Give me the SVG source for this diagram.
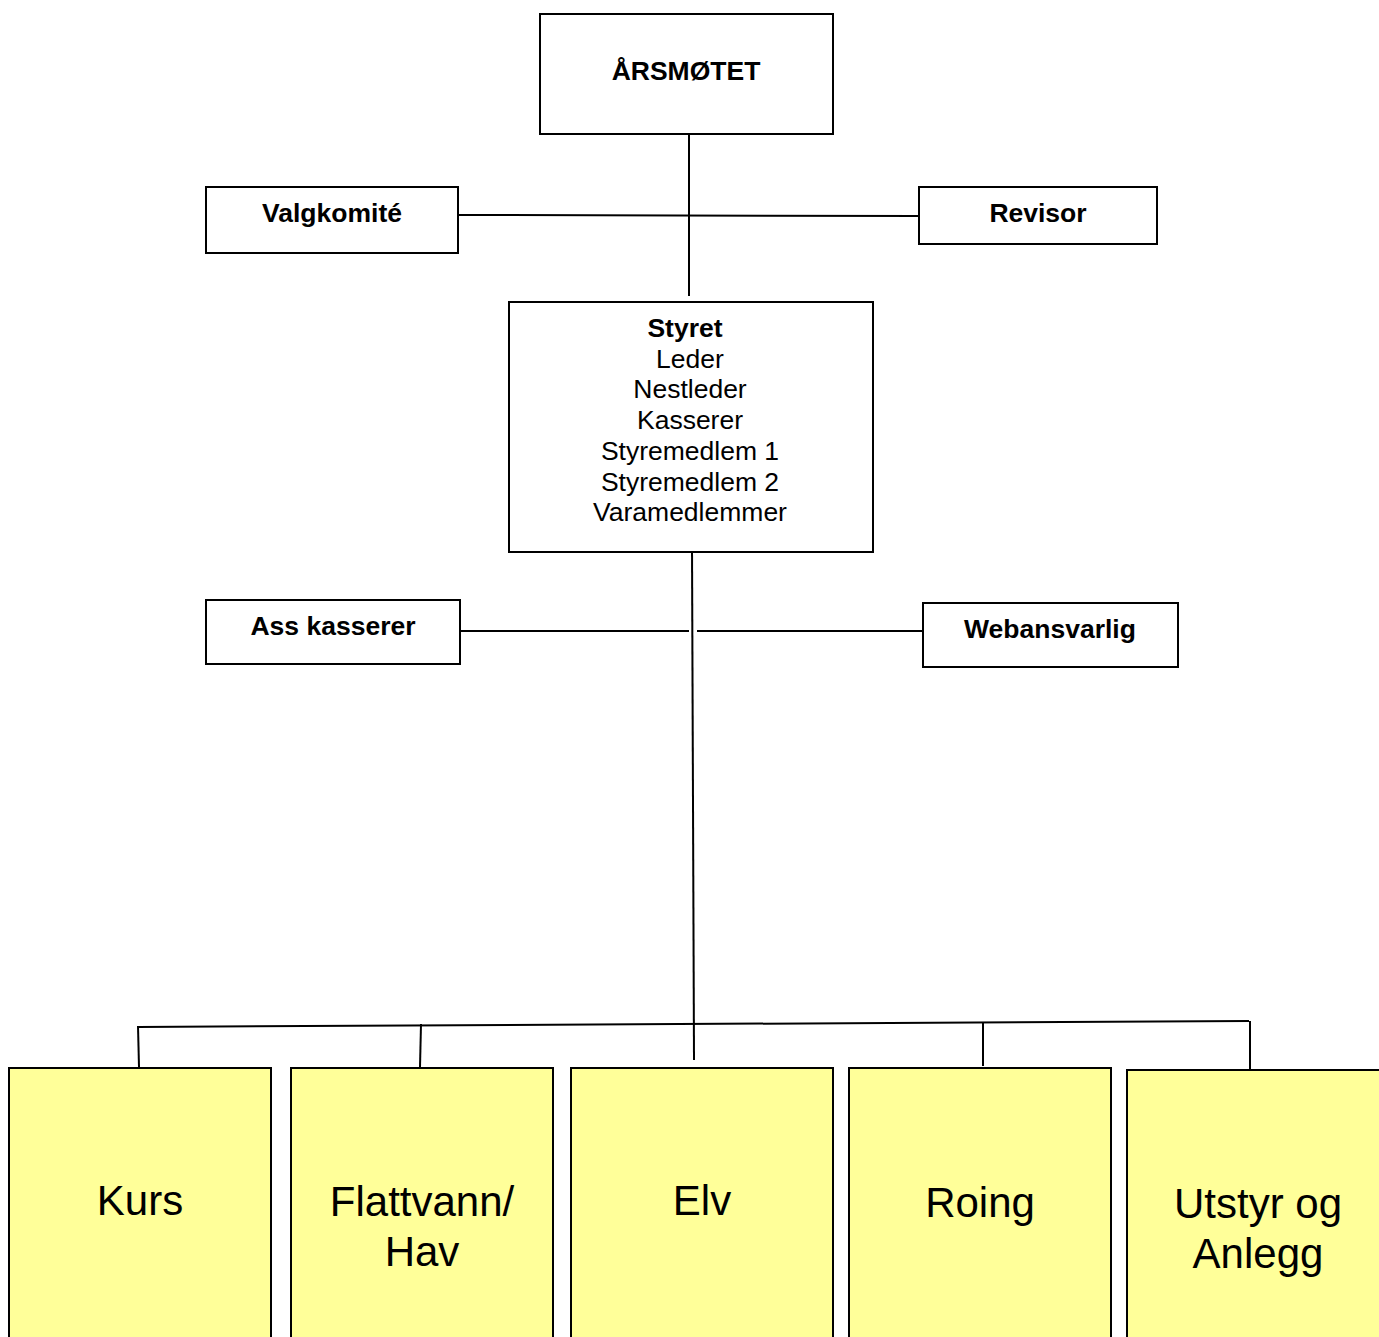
<svg xmlns="http://www.w3.org/2000/svg" width="1379" height="1337" viewBox="0 0 1379 1337">
<style>
.box{fill:#ffffff;stroke:#000;stroke-width:2}
.unit{fill:#ffff99;stroke:#000;stroke-width:2}
.ln{stroke:#000;stroke-width:2;fill:none}
.b{font-family:"Liberation Sans",Arial,sans-serif;font-weight:bold;font-size:26.5px;text-anchor:middle;fill:#000}
.r{font-family:"Liberation Sans",Arial,sans-serif;font-size:26.5px;text-anchor:middle;fill:#000}
.big{font-family:"Liberation Sans",Arial,sans-serif;font-size:42px;text-anchor:middle;fill:#000}
</style>
<rect width="1379" height="1337" fill="#ffffff"/>
<g id="connectors">
<line class="ln" x1="689" y1="134" x2="689" y2="296"/>
<line class="ln" x1="458" y1="215" x2="919" y2="216"/>
<line class="ln" x1="692" y1="548" x2="694" y2="1060"/>
<line class="ln" x1="460" y1="631" x2="689" y2="631"/>
<line class="ln" x1="697" y1="631" x2="923" y2="631"/>
<line class="ln" x1="138" y1="1027" x2="1249" y2="1021"/>
<line class="ln" x1="138" y1="1026" x2="139" y2="1067"/>
<line class="ln" x1="421" y1="1024" x2="420" y2="1067"/>
<line class="ln" x1="983" y1="1023" x2="983" y2="1066"/>
<line class="ln" x1="1250" y1="1021" x2="1250" y2="1069"/>
</g>
<g id="arsmotet">
<rect class="box" x="540" y="14" width="293" height="120"/>
<text class="b" x="686" y="80" font-size="27.5">ÅRSMØTET</text>
</g>
<g id="valgkomite">
<rect class="box" x="206" y="187" width="252" height="66"/>
<text class="b" x="332" y="222">Valgkomité</text>
</g>
<g id="revisor">
<rect class="box" x="919" y="187" width="238" height="57"/>
<text class="b" x="1038" y="222">Revisor</text>
</g>
<g id="styret">
<rect class="box" x="509" y="302" width="364" height="250"/>
<text class="b" x="685" y="337">Styret</text>
<text class="r" x="690" y="368">Leder</text>
<text class="r" x="690" y="398">Nestleder</text>
<text class="r" x="690" y="429">Kasserer</text>
<text class="r" x="690" y="460">Styremedlem 1</text>
<text class="r" x="690" y="491">Styremedlem 2</text>
<text class="r" x="690" y="521">Varamedlemmer</text>
</g>
<g id="asskasserer">
<rect class="box" x="206" y="600" width="254" height="64"/>
<text class="b" x="333" y="635">Ass kasserer</text>
</g>
<g id="webansvarlig">
<rect class="box" x="923" y="603" width="255" height="64"/>
<text class="b" x="1050" y="638">Webansvarlig</text>
</g>
<g id="kurs">
<rect class="unit" x="9" y="1068" width="262" height="290"/>
<text class="big" x="140" y="1215">Kurs</text>
</g>
<g id="flattvann">
<rect class="unit" x="291" y="1068" width="262" height="290"/>
<text class="big" x="422" y="1216">Flattvann/</text>
<text class="big" x="422" y="1266">Hav</text>
</g>
<g id="elv">
<rect class="unit" x="571" y="1068" width="262" height="290"/>
<text class="big" x="702" y="1215">Elv</text>
</g>
<g id="roing">
<rect class="unit" x="849" y="1068" width="262" height="290"/>
<text class="big" x="980" y="1217">Roing</text>
</g>
<g id="utstyr">
<rect class="unit" x="1127" y="1070" width="262" height="290"/>
<text class="big" x="1258" y="1218">Utstyr og</text>
<text class="big" x="1258" y="1268">Anlegg</text>
</g>
</svg>
